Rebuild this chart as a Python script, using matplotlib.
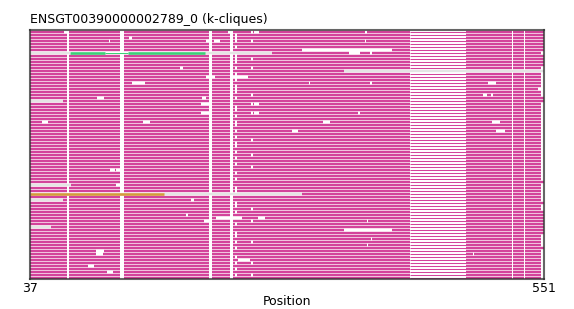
import numpy as np
import matplotlib.pyplot as plt

title = "ENSGT00390000002789_0 (k-cliques)"
n_rows = 83
x_start, x_end = 37, 551
short_end = 548

pink = "#d3439b"
grey = "#e4e4e4"
green = "#3ccf78"
orange = "#d49b3c"

# rows that run all the way to the last position
long_rows = [0, 1, 2, 3, 4, 5, 6, 8, 9, 10, 11, 22, 23, 50, 57, 60, 61, 62, 63, 64, 65, 66, 67, 72]

# white columns found in (nearly) every row
shared_gaps = [(74, 76), (127, 131), (216, 219), (237, 240), (519, 520), (531, 532)]
# region where every row is only a thin line
thin_span = (417, 473)

gap_242_rows = [1, 2, 3, 5, 8, 9, 10, 12, 14, 16, 18, 19, 20, 22, 25, 26, 28, 30, 31, 33, 35, 37,
                38, 40, 42, 44, 47, 49, 52, 53, 57, 58, 60, 62, 64, 67, 68, 70, 72, 75, 77, 79, 81]
gap_258_rows = [0, 3, 9, 12, 21, 24, 27, 36, 41, 45, 59, 63, 70, 77, 81]

# (row, start, end)
row_gaps = [
    (0, 71, 75), (0, 235, 237), (0, 261, 266), (0, 372, 374),
    (2, 136, 139), (3, 116, 117), (3, 213, 216), (3, 221, 227), (3, 372, 373),
    (6, 309, 399), (7, 356, 367), (7, 377, 379), (12, 187, 190),
    (15, 213, 222), (15, 237, 255),
    (17, 139, 152), (17, 316, 317), (17, 377, 379), (17, 495, 503),
    (19, 545, 551), (21, 490, 494), (21, 498, 500),
    (22, 104, 111), (22, 209, 213), (24, 208, 217), (24, 261, 266),
    (27, 208, 218), (27, 261, 266), (27, 365, 367),
    (30, 49, 55), (30, 150, 157), (30, 330, 337), (30, 499, 507),
    (33, 299, 305), (33, 503, 512),
    (46, 117, 122), (46, 123, 129), (51, 123, 129), (56, 198, 201),
    (61, 193, 195), (62, 223, 249), (62, 265, 272),
    (63, 211, 217), (63, 374, 375), (66, 351, 399),
    (69, 378, 379), (71, 374, 375), (73, 103, 111), (74, 103, 110), (74, 480, 481),
    (76, 245, 257), (78, 95, 101), (80, 114, 120),
]

grey_parts = [(7, 37, 77), (7, 212, 279), (13, 351, 551), (23, 37, 70), (51, 37, 78),
              (54, 171, 309), (56, 37, 70), (65, 37, 58)]
clique_thick = [(7, 77, 112, green), (7, 135, 212, green), (54, 37, 171, orange)]
clique_thin = [(7, 112, 135, green)]


def subtract(seg, cuts):
    pieces = [seg]
    for a, b in cuts:
        new = []
        for s, e in pieces:
            if b <= s or a >= e:
                new.append((s, e))
            else:
                if a > s:
                    new.append((s, a))
                if b < e:
                    new.append((b, e))
        pieces = new
    return pieces


thick_y, thick_s, thick_e = [], [], []
thin_y, thin_s, thin_e = [], [], []
for r in range(n_rows):
    end = x_end if r in long_rows else short_end
    covered = [(s, e) for rr, s, e in grey_parts if rr == r]
    covered += [(s, e) for rr, s, e, c in clique_thick + clique_thin if rr == r]
    cuts = shared_gaps + [thin_span] + covered
    cuts += [(s, e) for rr, s, e in row_gaps if rr == r]
    if r in gap_242_rows:
        cuts.append((242, 244))
    if r in gap_258_rows:
        cuts.append((258, 260))
    for s, e in subtract((x_start, end), cuts):
        thick_y.append(r)
        thick_s.append(s)
        thick_e.append(e)
    for s, e in subtract(thin_span, covered):
        thin_y.append(r)
        thin_s.append(s)
        thin_e.append(e)

fig = plt.figure(figsize=(5.74, 3.09), dpi=100)
ax = fig.add_axes([30 / 574, 1 - 279 / 309, 514 / 574, 249 / 309])

lw_thick = 1.7
lw_thin = 0.75
ax.hlines(thick_y, thick_s, thick_e, colors=pink, linewidth=lw_thick, capstyle="butt")
ax.hlines(thin_y, thin_s, thin_e, colors=pink, linewidth=lw_thin, capstyle="butt")
for r, s, e in grey_parts:
    ax.hlines(r, s, e, colors=grey, linewidth=lw_thick, capstyle="butt")
for r, s, e, c in clique_thick:
    ax.hlines(r, s, e, colors=c, linewidth=lw_thick + 0.2, capstyle="butt")
for r, s, e, c in clique_thin:
    ax.hlines(r, s, e, colors=c, linewidth=lw_thin, capstyle="butt")

ax.set_xlim(x_start, x_end)
ax.set_ylim(n_rows - 0.5, -0.5)
ax.set_yticks([])
ax.set_xticks([x_start, x_end])
ax.tick_params(axis="x", length=0, pad=2, labelsize=9)
for sp in ax.spines.values():
    sp.set_color("#333333")
    sp.set_alpha(0.75)
    sp.set_linewidth(1.5)

ax.set_xlabel("Position", fontsize=9, labelpad=0)
ax.set_title(title, loc="left", fontsize=9, pad=5)

fig.savefig("out.png", dpi=100)
